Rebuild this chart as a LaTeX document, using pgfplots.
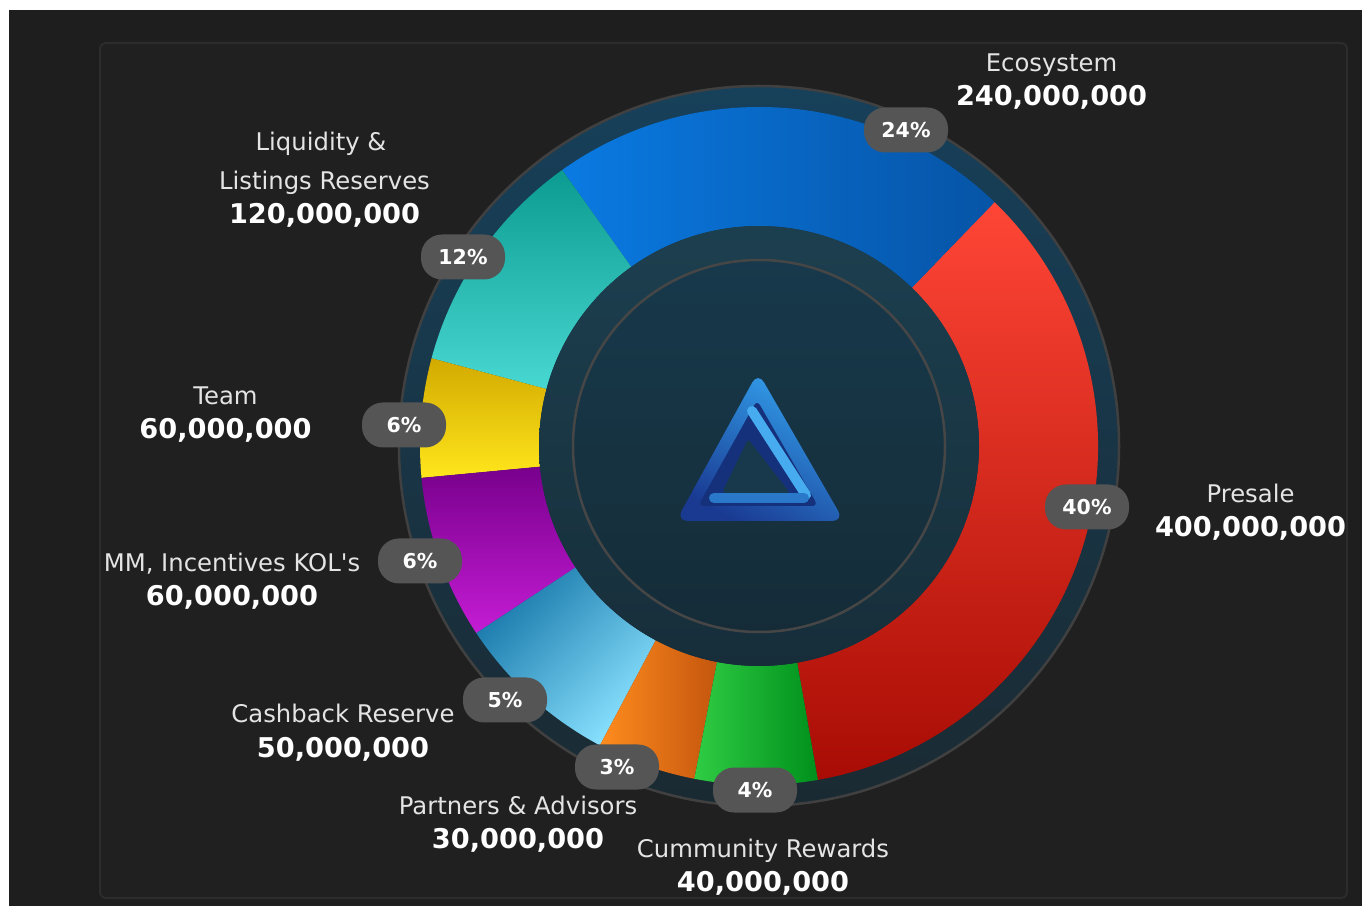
\documentclass[border=0pt]{standalone}
\usepackage{fontspec}
\setmainfont{DejaVu Sans}[Ligatures=TeXOff]
\usepackage{pgfplots}
\pgfplotsset{compat=1.18}
\definecolor{bgout}{HTML}{1E1E1E}
\definecolor{panel}{HTML}{202020}
\definecolor{panelline}{HTML}{2C2C2C}
\definecolor{ringtop}{HTML}{17405A}
\definecolor{ringbot}{HTML}{1A2A32}
\definecolor{bandtop}{HTML}{1C3F4F}
\definecolor{bandbot}{HTML}{172E3A}
\definecolor{midtop}{HTML}{17394B}
\definecolor{midbot}{HTML}{152C38}
\definecolor{badge}{HTML}{555555}
\definecolor{labtxt}{HTML}{E4E4E4}
% segment colours
\definecolor{ecoA}{HTML}{0A7AE2}\definecolor{ecoB}{HTML}{0654A6}
\definecolor{preA}{HTML}{FF4636}\definecolor{preB}{HTML}{A80C04}
\definecolor{liqA}{HTML}{0C9B90}\definecolor{liqB}{HTML}{48D8D2}
\definecolor{teaA}{HTML}{D2AA00}\definecolor{teaB}{HTML}{FFE61C}
\definecolor{mmA}{HTML}{78008C}\definecolor{mmB}{HTML}{C41CD4}
\definecolor{casA}{HTML}{1878AA}\definecolor{casB}{HTML}{8AE2FF}
\definecolor{parA}{HTML}{FF8C1E}\definecolor{parB}{HTML}{C4560E}
\definecolor{comA}{HTML}{30CC44}\definecolor{comB}{HTML}{00901C}
\definecolor{logoA}{HTML}{33A2EE}\definecolor{logoB}{HTML}{1A3A92}
% wedge: start angle, end angle, colour A, colour B, shading angle
\newcommand{\segment}[5]{%
  \shade[shift={(axis cs:759,459)}, top color=#3, bottom color=#4, shading angle=#5]
    (#1:339pt) arc[start angle=#1, end angle=#2, radius=339pt]
    -- (#2:220pt) arc[start angle=#2, end angle=#1, radius=220pt] -- cycle;}
\newcommand{\badge}[3]{%
  \node[fill=badge, rounded corners=21pt, minimum width=84pt, minimum height=45pt,
        inner sep=0pt, text=white, font=\fontsize{20.5pt}{24pt}\selectfont\bfseries]
        at (axis cs:#1,#2) {#3};}
\newcommand{\lab}[4]{%
  \node[anchor=base, text=labtxt, font=\fontsize{24.3pt}{29pt}\selectfont, inner sep=0pt]
        at (axis cs:#1,#2) {#3};
  \node[anchor=base, text=white, font=\fontsize{27.2pt}{32pt}\selectfont\bfseries, inner sep=0pt]
        at (axis cs:#1,#2-34) {#4};}
\begin{document}
\begin{tikzpicture}
\begin{axis}[x=1pt, y=1pt, xmin=0, xmax=1362, ymin=0, ymax=905,
  hide axis, clip=false, scale only axis]
% background
\fill[bgout] (axis cs:-5,-5) rectangle (axis cs:1367,910);
\fill[white] (axis cs:-5,895) rectangle (axis cs:1367,910);
\fill[white] (axis cs:-5,-5) rectangle (axis cs:9,910);
\draw[panelline, fill=panel, line width=2pt, rounded corners=6pt]
  (axis cs:100,7) rectangle (axis cs:1347,862);
% outer ring
\shade[top color=ringtop, bottom color=ringbot] (axis cs:759,459) circle[radius=360pt];
\draw[draw=black!50!gray, line width=2.5pt] (axis cs:759,459) circle[radius=360pt];
% wedges: drawn angles (degrees)
\segment{-80}{46}{preA}{preB}{0}
\segment{46}{125.5}{ecoA}{ecoB}{90}
\segment{125.5}{165}{liqA}{liqB}{0}
\segment{165}{185.4}{teaA}{teaB}{0}
\segment{185.4}{213.5}{mmA}{mmB}{0}
\segment{213.5}{242}{casA}{casB}{45}
\segment{242}{259}{parA}{parB}{90}
\segment{259}{280}{comA}{comB}{90}
% centre
\shade[top color=bandtop, bottom color=bandbot] (axis cs:759,459) circle[radius=220pt];
\shade[top color=midtop, bottom color=midbot] (axis cs:759,459) circle[radius=186pt];
\draw[color=gray!55!black, line width=2.5pt] (axis cs:759,459) circle[radius=186pt];
% logo
\shade[left color=logoA, right color=logoB, shading angle=-30, rounded corners=12pt]
  (axis cs:676,384) -- (axis cs:758,533) -- (axis cs:844,384) -- cycle;
\fill[logoB!85!black, rounded corners=6pt]
  (axis cs:698,399) -- (axis cs:757,505) -- (axis cs:818,399) -- cycle;
\fill[midtop, rounded corners=3pt]
  (axis cs:722,412) -- (axis cs:748,466) -- (axis cs:790,412) -- cycle;
\draw[logoA!90!white, line width=10pt, line cap=round] (axis cs:752,494) -- (axis cs:806,410);
\draw[logoA!60!logoB, line width=10pt, line cap=round] (axis cs:714,407) -- (axis cs:804,407);
% percentage badges
\badge{906}{775}{24\%}
\badge{463}{648}{12\%}
\badge{404}{480}{6\%}
\badge{420}{344}{6\%}
\badge{505}{205}{5\%}
\badge{617}{138}{3\%}
\badge{755}{115}{4\%}
\badge{1087}{398}{40\%}
% labels
\node[anchor=base, text=labtxt, font=\fontsize{24.3pt}{29pt}\selectfont, inner sep=0pt]
  at (axis cs:321,754) {Liquidity \&};
\lab{1051.5}{833}{Ecosystem}{240,000,000}
\lab{324.5}{715}{Listings Reserves}{120,000,000}
\lab{225.5}{500}{Team}{60,000,000}
\lab{232}{333}{MM, Incentives KOL's}{60,000,000}
\lab{343}{182}{Cashback Reserve}{50,000,000}
\lab{518}{91}{Partners \& Advisors}{30,000,000}
\lab{763}{48}{Cummunity Rewards}{40,000,000}
\lab{1250.5}{402}{Presale}{400,000,000}
\end{axis}
\pgfresetboundingbox
\useasboundingbox (current axis.south west) rectangle (current axis.north east);
\end{tikzpicture}
\end{document}
